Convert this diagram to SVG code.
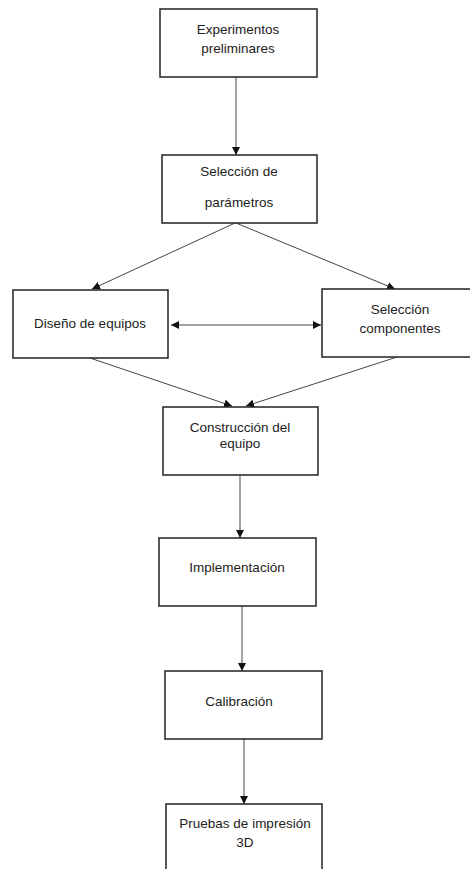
<svg xmlns="http://www.w3.org/2000/svg" width="470" height="869" viewBox="0 0 470 869">
<style>
.box{fill:#fff;stroke:#222;stroke-width:1.5}
.lbl{font-family:"Liberation Sans",Arial,sans-serif;font-size:13.5px;fill:#222;text-anchor:middle}
.con{stroke:#444;stroke-width:1;fill:none;marker-end:url(#ah)}
</style>
<defs>
<marker id="ah" viewBox="0 0 10 10" refX="10" refY="5" markerWidth="8" markerHeight="8" markerUnits="userSpaceOnUse" orient="auto-start-reverse">
<path d="M0,0 L10,5 L0,10 z" fill="#111"/>
</marker>
</defs>
<rect width="470" height="869" fill="#fff"/>
<g id="connectors">
<line class="con" x1="236" y1="77" x2="236" y2="155"/>
<line class="con" x1="235" y1="223" x2="92" y2="289"/>
<line class="con" x1="236" y1="223" x2="395" y2="289"/>
<line class="con" x1="171" y1="325" x2="321" y2="325" style="marker-start:url(#ah)"/>
<line class="con" x1="90" y1="358" x2="232" y2="406"/>
<line class="con" x1="397" y1="357" x2="246" y2="406"/>
<line class="con" x1="240" y1="475" x2="240" y2="538"/>
<line class="con" x1="242" y1="606" x2="242" y2="671"/>
<line class="con" x1="244" y1="739" x2="244" y2="804"/>
</g>
<g id="n1"><rect class="box" x="160" y="9" width="157" height="68"/>
<text class="lbl" x="238" y="34">Experimentos</text><text class="lbl" x="238" y="53">preliminares</text></g>
<g id="n2"><rect class="box" x="162" y="155" width="155" height="68"/>
<text class="lbl" x="239" y="176">Selección de</text><text class="lbl" x="239" y="207">parámetros</text></g>
<g id="n3"><rect class="box" x="13" y="290" width="155" height="68"/>
<text class="lbl" x="90" y="328">Diseño de equipos</text></g>
<g id="n4"><rect class="box" x="322" y="289" width="155" height="68"/>
<text class="lbl" x="400" y="314">Selección</text><text class="lbl" x="400" y="333">componentes</text></g>
<g id="n5"><rect class="box" x="163" y="407" width="155" height="68"/>
<text class="lbl" x="240" y="432">Construcción del</text><text class="lbl" x="240" y="448">equipo</text></g>
<g id="n6"><rect class="box" x="159" y="538" width="157" height="68"/>
<text class="lbl" x="237" y="572">Implementación</text></g>
<g id="n7"><rect class="box" x="165" y="671" width="157" height="68"/>
<text class="lbl" x="239" y="706">Calibración</text></g>
<g id="n8"><rect class="box" x="166" y="804" width="156" height="75"/>
<text class="lbl" x="245" y="828">Pruebas de impresión</text><text class="lbl" x="245" y="847">3D</text></g>
</svg>
